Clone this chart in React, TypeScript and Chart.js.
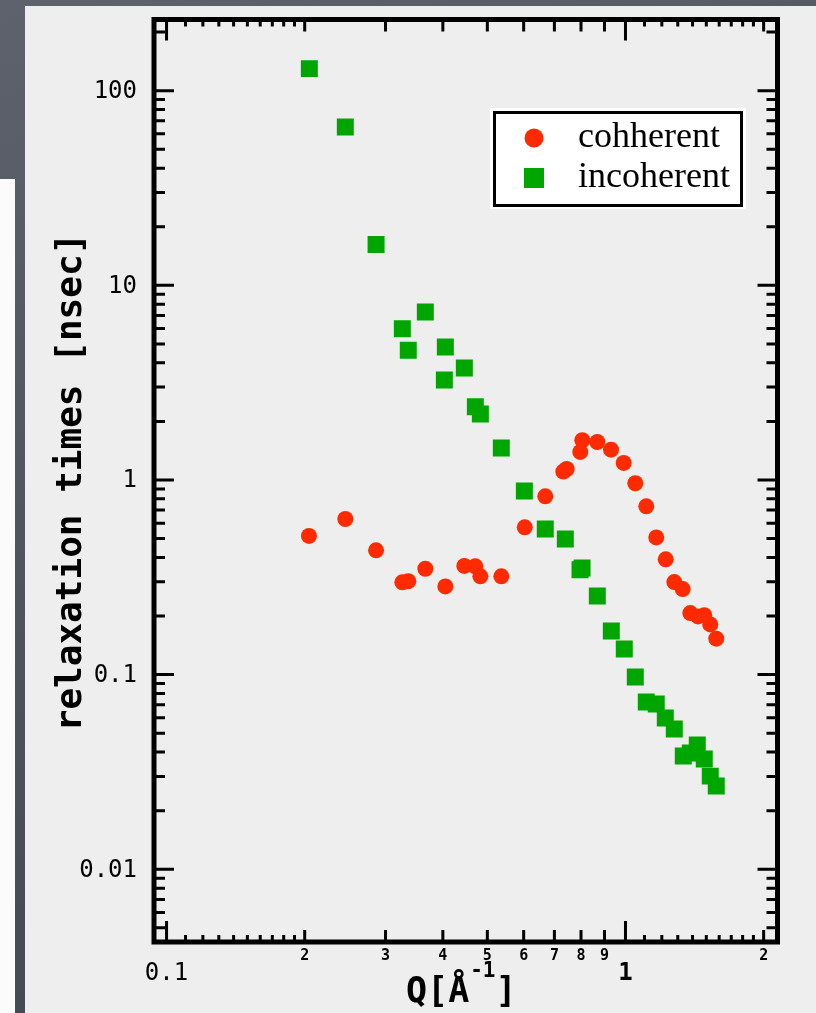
import React, { useEffect, useRef } from "react";
import { Chart, registerables } from "chart.js";

Chart.register(...registerables);

// ---- data (Q in 1/Å, relaxation time in nsec) ----
const coherentQ = [
  0.2043, 0.2452, 0.2861, 0.3264, 0.3363, 0.3663, 0.405, 0.4455, 0.4708, 0.4828, 0.5363,
  0.6032, 0.6687, 0.732, 0.7445, 0.7971, 0.8052, 0.8681, 0.9299, 0.991, 1.0504, 1.1099,
  1.1669, 1.2234, 1.2774, 1.3323, 1.3842, 1.4387, 1.4847, 1.53, 1.5768,
];
const coherentTau = [
  0.516, 0.63, 0.435, 0.298, 0.302, 0.35, 0.284, 0.3616, 0.36, 0.32, 0.32,
  0.571, 0.824, 1.104, 1.139, 1.393, 1.6, 1.567, 1.431, 1.223, 0.962, 0.732,
  0.507, 0.391, 0.299, 0.275, 0.207, 0.199, 0.202, 0.181, 0.153,
];
const incoherentQ = [
  0.2047, 0.2452, 0.2861, 0.3264, 0.3363, 0.3663, 0.403, 0.405, 0.4455, 0.4708, 0.4828,
  0.5363, 0.602, 0.6687, 0.7394, 0.796, 0.8041, 0.8681, 0.9313, 0.994, 1.0504, 1.1099,
  1.1669, 1.221, 1.2774, 1.3363, 1.3842, 1.4335, 1.4847, 1.53, 1.5768,
];
const incoherentTau = [
  129.8, 65.1, 16.2, 5.98, 4.64, 7.3, 3.26, 4.82, 3.76, 2.38, 2.18,
  1.46, 0.878, 0.56, 0.497, 0.346, 0.353, 0.2535, 0.1676, 0.1355, 0.0973, 0.0724,
  0.0707, 0.0599, 0.0526, 0.0382, 0.0396, 0.0435, 0.0369, 0.0301, 0.0268,
];

const seriesLabels = ["cohherent", "incoherent"];
const seriesColors = ["#ff2a00", "#00a600"];

// ---- axes ----
const xMin = 0.0939;
const xMax = 2.144;
const yMin = 0.00423;
const yMax = 232.1;

const xMajorTicks = [0.1, 1];
const xMajorLabels = ["0.1", "1"];
const xMediumTicks = [0.2, 0.3, 0.4, 0.5, 0.6, 0.7, 0.8, 0.9, 2];
const xMediumLabels = ["2", "3", "4", "5", "6", "7", "8", "9", "2"];
const xMinorTicks = [
  0.11, 0.12, 0.13, 0.14, 0.15, 0.16, 0.17, 0.18, 0.19,
  1.1, 1.2, 1.3, 1.4, 1.5, 1.6, 1.7, 1.8, 1.9,
];
const yMajorTicks = [0.01, 0.1, 1, 10, 100];
const yMajorLabels = ["0.01", "0.1", "1", "10", "100"];
const yMinorMultipliers = [2, 3, 4, 5, 6, 7, 8, 9];
const yDecades = [0.001, 0.01, 0.1, 1, 10, 100];

const xTitleMain = "Q[Å";
const xTitleSup = "-1";
const xTitleEnd = "]";
const yTitle = "relaxation times [nsec]";

const MONO = "'DejaVu Sans Mono', monospace";

const framePlugin = {
  id: "framePlugin",
  afterDatasetsDraw(chart: any) {
    const { ctx, chartArea: a, scales } = chart;
    const xs = scales.x;
    const ys = scales.y;
    ctx.save();
    ctx.strokeStyle = "#000";
    ctx.fillStyle = "#000";
    ctx.lineCap = "butt";
    ctx.lineWidth = 3;

    const hTick = (v: number, len: number) => {
      const py = ys.getPixelForValue(v);
      ctx.beginPath();
      ctx.moveTo(a.left, py);
      ctx.lineTo(a.left + len, py);
      ctx.moveTo(a.right, py);
      ctx.lineTo(a.right - len, py);
      ctx.stroke();
    };
    const vTick = (v: number, len: number) => {
      const px = xs.getPixelForValue(v);
      ctx.beginPath();
      ctx.moveTo(px, a.bottom);
      ctx.lineTo(px, a.bottom - len);
      ctx.moveTo(px, a.top);
      ctx.lineTo(px, a.top + len);
      ctx.stroke();
    };

    yMajorTicks.forEach((v) => hTick(v, 20));
    yDecades.forEach((d) =>
      yMinorMultipliers.forEach((m) => {
        const v = Number((m * d).toPrecision(4));
        if (v > yMin && v < yMax) hTick(v, 11);
      })
    );
    xMajorTicks.forEach((v) => vTick(v, 21));
    xMediumTicks.forEach((v) => vTick(v, 12));
    xMinorTicks.forEach((v) => vTick(v, 7));

    // frame
    ctx.lineWidth = 5;
    ctx.strokeRect(a.left, a.top, a.right - a.left, a.bottom - a.top);

    // y tick labels
    ctx.font = `24px ${MONO}`;
    ctx.textAlign = "right";
    ctx.textBaseline = "middle";
    yMajorTicks.forEach((v, i) => {
      ctx.fillText(yMajorLabels[i], 137, ys.getPixelForValue(v) + 1);
    });

    // x tick labels
    ctx.textAlign = "center";
    xMajorTicks.forEach((v, i) => {
      ctx.font = i === 1 ? `bold 24px ${MONO}` : `24px ${MONO}`;
      ctx.fillText(xMajorLabels[i], xs.getPixelForValue(v), 974);
    });
    ctx.font = `bold 15px ${MONO}`;
    xMediumTicks.forEach((v, i) => {
      ctx.fillText(xMediumLabels[i], xs.getPixelForValue(v), 956);
    });

    // axis titles
    ctx.textBaseline = "alphabetic";
    ctx.textAlign = "left";
    ctx.font = `bold 35px ${MONO}`;
    ctx.fillText(xTitleMain, 406, 1002);
    const w1 = ctx.measureText(xTitleMain).width;
    ctx.font = `bold 21px ${MONO}`;
    ctx.fillText(xTitleSup, 406 + w1 + 1, 977);
    const w2 = ctx.measureText(xTitleSup).width;
    ctx.font = `bold 35px ${MONO}`;
    ctx.fillText(xTitleEnd, 406 + w1 + w2 + 1, 1002);

    ctx.save();
    ctx.translate(72, 482);
    ctx.rotate(-Math.PI / 2);
    ctx.textAlign = "center";
    ctx.textBaseline = "middle";
    ctx.font = `bold 36px ${MONO}`;
    ctx.fillText(yTitle, 0, 0);
    ctx.restore();

    // legend
    ctx.fillStyle = "#ffffff";
    ctx.fillRect(490, 108, 256, 101);
    ctx.strokeStyle = "#000";
    ctx.lineWidth = 3;
    ctx.strokeRect(494.5, 112.5, 247, 93);
    const ds = chart.data.datasets;
    ctx.fillStyle = ds[0].backgroundColor;
    ctx.beginPath();
    ctx.arc(534, 138, 9.5, 0, Math.PI * 2);
    ctx.fill();
    ctx.fillStyle = ds[1].backgroundColor;
    ctx.fillRect(524, 168, 20, 20);
    ctx.fillStyle = "#000";
    ctx.font = "36px 'Liberation Serif', serif";
    ctx.textAlign = "left";
    ctx.fillText(ds[0].label, 578, 147);
    ctx.fillText(ds[1].label, 578, 187);

    ctx.restore();
  },
};

export default function App() {
  const canvasRef = useRef<HTMLCanvasElement | null>(null);

  useEffect(() => {
    if (!canvasRef.current) return;
    const chart = new Chart(canvasRef.current, {
      type: "scatter",
      data: {
        datasets: [
          {
            label: seriesLabels[0],
            data: coherentQ.map((q, i) => ({ x: q, y: coherentTau[i] })),
            backgroundColor: seriesColors[0],
            borderColor: seriesColors[0],
            pointStyle: "circle",
            pointRadius: 8,
            pointBorderWidth: 0,
            pointHoverRadius: 8,
          },
          {
            label: seriesLabels[1],
            data: incoherentQ.map((q, i) => ({ x: q, y: incoherentTau[i] })),
            backgroundColor: seriesColors[1],
            borderColor: seriesColors[1],
            pointStyle: "rect",
            pointRadius: 12,
            pointBorderWidth: 0,
            pointHoverRadius: 12,
          },
        ],
      },
      options: {
        responsive: false,
        animation: false,
        devicePixelRatio: 1,
        layout: { padding: { left: 154, top: 19.5, right: 38.5, bottom: 71 } },
        scales: {
          x: { type: "logarithmic", min: xMin, max: xMax, display: false },
          y: { type: "logarithmic", min: yMin, max: yMax, display: false },
        },
        plugins: {
          legend: { display: false },
          tooltip: { enabled: false },
        },
        events: [],
      },
      plugins: [framePlugin],
    });
    return () => chart.destroy();
  }, []);

  return (
    <div
      style={{
        position: "fixed",
        left: 0,
        top: 0,
        width: 816,
        height: 1013,
        overflow: "hidden",
        background: "linear-gradient(160deg, #5e626d 0%, #4e525d 50%, #40444f 100%)",
      }}
    >
      <div
        style={{
          position: "absolute",
          left: 0,
          top: 179,
          width: 15,
          height: 834,
          background: "#fbfbfb",
        }}
      />
      <div
        style={{
          position: "absolute",
          left: 25,
          top: 6,
          width: 791,
          height: 1007,
          background: "#eeeeee",
        }}
      />
      <canvas
        ref={canvasRef}
        width={816}
        height={1013}
        style={{ position: "absolute", left: 0, top: 0, width: 816, height: 1013 }}
      />
    </div>
  );
}
